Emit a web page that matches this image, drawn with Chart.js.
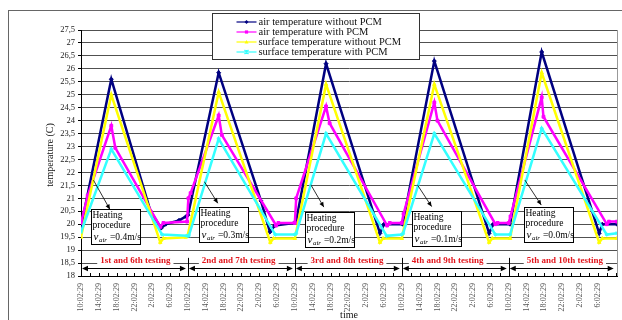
<!DOCTYPE html>
<html>
<head>
<meta charset="utf-8">
<script src="https://cdn.jsdelivr.net/npm/chart.js@4.4.1/dist/chart.umd.min.js"></script>
<style>
  html, body { margin: 0; padding: 0; background: #fff; }
  #wrap { width: 622px; height: 320px; }
</style>
</head>
<body>
<div id="wrap"><canvas id="chart" width="622" height="320"></canvas></div>
<script>
const SERIF = "'Liberation Serif', 'Times New Roman', serif";

// x axis labels, one every 4 hours
const timeLabels = [
  '10:02:29', '14:02:29', '18:02:29', '22:02:29', '2:02:29', '6:02:29',
  '10:02:29', '14:02:29', '18:02:29', '22:02:29', '2:02:29', '6:02:29',
  '10:02:29', '14:02:29', '18:02:29', '22:02:29', '2:02:29', '6:02:29',
  '10:02:29', '14:02:29', '18:02:29', '22:02:29', '2:02:29', '6:02:29',
  '10:02:29', '14:02:29', '18:02:29', '22:02:29', '2:02:29', '6:02:29'
];
const tempTicks = [18, 18.5, 19, 19.5, 20, 20.5, 21, 21.5, 22, 22.5, 23, 23.5, 24, 24.5, 25, 25.5, 26, 26.5, 27, 27.5];

// [hours since start, temperature C]
const airNoPcm = [
  [0, 19.9], [6.8, 25.6], [15.6, 20.5], [18.0, 19.85], [19.0, 20.0], [22.0, 20.15], [23.6, 20.3],
  [24.0, 20.35], [30.9, 25.85], [40.4, 20.9], [42.4, 19.7], [43.5, 19.95], [47.8, 20.05],
  [48.2, 20.05], [55.0, 26.2], [67.1, 19.65], [68.0, 20.0], [72.2, 20.0],
  [79.3, 26.3], [91.6, 19.65], [92.5, 20.0], [96.3, 20.0],
  [103.4, 26.65], [116.3, 19.65], [117.0, 20.0], [120.3, 20.0]
];
const airPcm = [
  [0, 20.05], [1.5, 21.1], [6.8, 23.8], [7.7, 22.95], [17.8, 19.9], [18.5, 20.05], [23.8, 20.1],
  [24.1, 21.0], [24.6, 21.2], [30.9, 24.2], [31.6, 23.45], [43.8, 19.95], [44.3, 20.05], [48.0, 20.05],
  [48.3, 21.0], [55.0, 24.55], [55.8, 23.9], [68.7, 19.95], [69.3, 20.05], [72.0, 20.05],
  [72.4, 20.4], [79.3, 24.7], [80.0, 24.0], [93.0, 20.0], [93.5, 20.05], [96.0, 20.05],
  [96.4, 20.3], [103.4, 24.9], [103.8, 24.15], [118.0, 20.0], [118.5, 20.1], [120.3, 20.1]
];
const surfNoPcm = [
  [0, 19.5], [6.8, 25.0], [17.8, 19.3], [18.5, 19.45], [23.5, 19.5],
  [24.0, 19.6], [30.9, 25.1], [42.5, 19.3], [43.2, 19.45], [48.0, 19.45],
  [55.0, 25.4], [67.1, 19.3], [67.8, 19.45], [72.0, 19.45],
  [79.3, 25.4], [91.6, 19.3], [92.3, 19.45], [96.3, 19.45],
  [103.4, 25.85], [116.3, 19.3], [117.0, 19.45], [120.3, 19.45]
];
const surfPcm = [
  [0, 19.7], [6.8, 22.9], [18.2, 19.6], [23.8, 19.55],
  [24.2, 19.55], [30.9, 23.3], [43.6, 19.6], [48.0, 19.6],
  [48.3, 19.65], [55.0, 23.5], [68.6, 19.55], [72.0, 19.6],
  [72.3, 19.65], [79.3, 23.5], [93.0, 19.6], [96.3, 19.6],
  [103.4, 23.7], [118.0, 19.6], [120.3, 19.65]
];

const airSpeeds = ['0.4', '0.3', '0.2', '0.1', '0.0'];
const testingLabels = ['1st and 6th testing', '2nd and 7th testing', '3rd and 8th testing', '4th and 9th testing', '5th and 10th testing'];

// annotation placement in data units (box top-left, arrow start and end)
const heatNotes = [
  { h: 2.2, t: 20.6, from: [2.8, 21.7], to: [6.5, 20.57] },
  { h: 26.45, t: 20.68, from: [27.7, 21.64], to: [30.7, 20.81] },
  { h: 50.3, t: 20.48, from: [51.6, 21.52], to: [54.5, 20.66] },
  { h: 74.3, t: 20.5, from: [75.5, 21.52], to: [78.7, 20.68] },
  { h: 99.5, t: 20.65, from: [99.6, 21.71], to: [103.3, 20.74] }
];
const testingCenters = [12.2, 35.4, 59.7, 82.3, 108.6];

function series(label, pts, color, style, order) {
  return {
    label: label,
    data: pts.map(p => ({ x: p[0], y: p[1] })),
    borderColor: color,
    backgroundColor: color,
    borderWidth: 2.5,
    pointStyle: style,
    pointRadius: 2,
    pointBorderWidth: 1,
    tension: 0,
    order: order
  };
}

function arrowHead(ctx, x1, y1, x2, y2, len, half) {
  const a = Math.atan2(y2 - y1, x2 - x1);
  ctx.beginPath();
  ctx.moveTo(x2, y2);
  ctx.lineTo(x2 - len * Math.cos(a) + half * Math.sin(a), y2 - len * Math.sin(a) - half * Math.cos(a));
  ctx.lineTo(x2 - len * Math.cos(a) - half * Math.sin(a), y2 - len * Math.sin(a) + half * Math.cos(a));
  ctx.closePath();
  ctx.fill();
}

function marker(ctx, style, x, y, r) {
  ctx.beginPath();
  if (style === 'rectRot') {
    ctx.moveTo(x, y - r); ctx.lineTo(x + r, y); ctx.lineTo(x, y + r); ctx.lineTo(x - r, y); ctx.closePath(); ctx.fill();
  } else if (style === 'rect') {
    ctx.fillRect(x - r * 0.8, y - r * 0.8, r * 1.6, r * 1.6);
  } else if (style === 'triangle') {
    ctx.moveTo(x, y - r); ctx.lineTo(x + r, y + r * 0.7); ctx.lineTo(x - r, y + r * 0.7); ctx.closePath(); ctx.fill();
  } else {
    ctx.moveTo(x - r, y - r); ctx.lineTo(x + r, y + r);
    ctx.moveTo(x + r, y - r); ctx.lineTo(x - r, y + r);
    ctx.moveTo(x, y - r); ctx.lineTo(x, y + r);
    ctx.stroke();
  }
}

const decor = {
  id: 'decor',
  beforeDraw(chart) {
    const ctx = chart.ctx;
    ctx.save();
    ctx.fillStyle = '#fff';
    ctx.fillRect(0, 0, chart.width, chart.height);
    ctx.strokeStyle = '#666';
    ctx.lineWidth = 1;
    ctx.strokeRect(8.5, 10.5, 700, 400);
    ctx.restore();
  },
  afterDraw(chart) {
    const ctx = chart.ctx;
    const xs = chart.scales.x, ys = chart.scales.y;
    const area = chart.chartArea;
    const px = h => xs.getPixelForValue(h);
    const py = t => ys.getPixelForValue(t);
    ctx.save();

    // plot border right
    ctx.strokeStyle = '#999';
    ctx.lineWidth = 1;
    ctx.beginPath();
    ctx.moveTo(Math.round(area.right) + 0.5, area.top);
    ctx.lineTo(Math.round(area.right) + 0.5, area.bottom);
    ctx.stroke();

    // minor ticks every 2 hours, inside
    ctx.strokeStyle = '#000';
    ctx.beginPath();
    for (let h = 0; h <= 120; h += 2) {
      const x = Math.round(px(h)) + 0.5;
      ctx.moveTo(x, area.bottom - 3);
      ctx.lineTo(x, area.bottom);
    }
    ctx.stroke();

    // testing periods row
    const arrowY = Math.round(py(18.3)) + 0.5;
    for (let k = 0; k < testingLabels.length; k++) {
      const x1 = px(24 * k) + 1, x2 = px(24 * (k + 1)) - 2;
      ctx.strokeStyle = '#000';
      ctx.fillStyle = '#000';
      ctx.lineWidth = 1;
      ctx.beginPath();
      ctx.moveTo(x1 + 4, arrowY);
      ctx.lineTo(x2 - 4, arrowY);
      ctx.stroke();
      arrowHead(ctx, x2 - 6, arrowY, x2, arrowY, 6, 2.8);
      arrowHead(ctx, x1 + 6, arrowY, x1, arrowY, 6, 2.8);
      if (k > 0) {
        const sx = Math.round(px(24 * k)) + 0.5;
        ctx.beginPath();
        ctx.moveTo(sx, py(18.7));
        ctx.lineTo(sx, area.bottom);
        ctx.stroke();
      }
      ctx.font = 'bold 9px ' + SERIF;
      const w = ctx.measureText(testingLabels[k]).width;
      const cx = px(testingCenters[k]);
      const cy = py(18.5) - 2;
      ctx.fillStyle = '#fff';
      ctx.fillRect(cx - w / 2 - 3, cy - 6, w + 6, 11);
      ctx.fillStyle = '#e3161d';
      ctx.textAlign = 'center';
      ctx.textBaseline = 'middle';
      ctx.fillText(testingLabels[k], cx, cy);
    }

    // heating procedure boxes
    heatNotes.forEach((n, i) => {
      const bx = Math.round(px(n.h)) + 0.5, by = Math.round(py(n.t)) + 0.5;
      const bw = 49, bh = 35;
      ctx.fillStyle = '#fff';
      ctx.fillRect(bx, by, bw, bh);
      ctx.strokeStyle = '#000';
      ctx.lineWidth = 1;
      ctx.strokeRect(bx, by, bw, bh);
      ctx.fillStyle = '#000';
      ctx.textAlign = 'left';
      ctx.textBaseline = 'middle';
      ctx.font = '9.5px ' + SERIF;
      ctx.fillText('Heating', bx + 1, by + 6);
      ctx.fillText('procedure', bx + 1, by + 16);
      ctx.font = 'italic 11px ' + SERIF;
      ctx.fillText('v', bx + 2, by + 28);
      const vw = ctx.measureText('v').width;
      ctx.font = 'italic 7px ' + SERIF;
      ctx.fillText('air', bx + 2.5 + vw, by + 31);
      const aw = ctx.measureText('air').width;
      ctx.font = '9.5px ' + SERIF;
      ctx.fillText(' =' + airSpeeds[i] + 'm/s', bx + 3 + vw + aw, by + 28);

      const x1 = px(n.from[0]), y1 = py(n.from[1]);
      const x2 = px(n.to[0]), y2 = py(n.to[1]);
      ctx.lineWidth = 0.8;
      ctx.beginPath();
      ctx.moveTo(x1, y1);
      ctx.lineTo(x2, y2);
      ctx.stroke();
      arrowHead(ctx, x1, y1, x2, y2, 5, 2.2);
    });

    // axis titles
    ctx.fillStyle = '#111';
    ctx.font = '10px ' + SERIF;
    ctx.textAlign = 'center';
    ctx.textBaseline = 'middle';
    ctx.fillText('time', (area.left + area.right) / 2, 315);
    ctx.save();
    ctx.translate(50, 155);
    ctx.rotate(-Math.PI / 2);
    ctx.fillText('temperature (C)', 0, 0);
    ctx.restore();

    // legend
    const lx = 212.5, ly = 13.5, lw = 207, lh = 46;
    ctx.fillStyle = '#fff';
    ctx.fillRect(lx, ly, lw, lh);
    ctx.strokeStyle = '#333';
    ctx.lineWidth = 1;
    ctx.strokeRect(lx, ly, lw, lh);
    chart.data.datasets.forEach((ds, i) => {
      const y = 22 + i * 10;
      ctx.strokeStyle = ds.borderColor;
      ctx.fillStyle = ds.borderColor;
      ctx.lineWidth = 1.2;
      ctx.beginPath();
      ctx.moveTo(236.5, y);
      ctx.lineTo(256.5, y);
      ctx.stroke();
      marker(ctx, ds.pointStyle, 246.5, y, 2);
      ctx.fillStyle = '#111';
      ctx.font = '10.5px ' + SERIF;
      ctx.textAlign = 'left';
      ctx.textBaseline = 'middle';
      ctx.fillText(ds.label, 258.5, y);
    });
    ctx.restore();
  }
};

new Chart(document.getElementById('chart'), {
  type: 'line',
  data: {
    datasets: [
      series('air temperature without PCM', airNoPcm, '#000080', 'rectRot', 3),
      series('air temperature with PCM', airPcm, '#ff00ff', 'rect', 2),
      series('surface temperature without PCM', surfNoPcm, '#ffff00', 'triangle', 1),
      series('surface temperature with PCM', surfPcm, '#33ffff', 'star', 0)
    ]
  },
  options: {
    responsive: false,
    animation: false,
    devicePixelRatio: 1,
    layout: { padding: { left: 0, top: 30, right: 3, bottom: 0 } },
    plugins: { legend: { display: false }, tooltip: { enabled: false } },
    scales: {
      x: {
        type: 'linear',
        min: 0,
        max: 120.3,
        afterFit: s => { s.height = 44; },
        afterBuildTicks: s => { s.ticks = timeLabels.map((l, i) => ({ value: i * 4 })); },
        ticks: {
          autoSkip: false,
          maxRotation: 90,
          minRotation: 90,
          padding: 7,
          color: '#555',
          font: { family: SERIF, size: 8 },
          callback: v => timeLabels[Math.round(v / 4)] || ''
        },
        grid: { drawOnChartArea: false, drawTicks: false },
        border: { color: '#000', width: 1 }
      },
      y: {
        min: 18,
        max: 27.5,
        afterFit: s => { s.width = 81; },
        afterBuildTicks: s => { s.ticks = tempTicks.map(v => ({ value: v })); },
        ticks: {
          autoSkip: false,
          padding: 3,
          color: '#222',
          font: { family: SERIF, size: 8.5 },
          callback: v => String(v).replace('.', ',')
        },
        grid: { color: '#505050', lineWidth: 1, tickLength: 3, tickColor: '#000' },
        border: { color: '#000', width: 1 }
      }
    }
  },
  plugins: [decor]
});
</script>
</body>
</html>
